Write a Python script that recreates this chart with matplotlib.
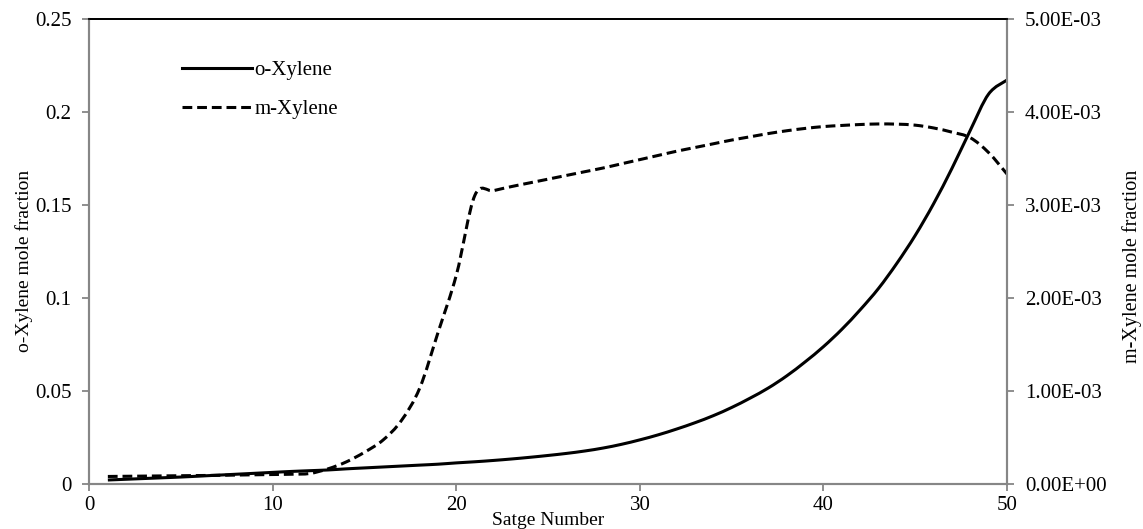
import numpy as np
import matplotlib
matplotlib.use('Agg')
import matplotlib.pyplot as plt
from matplotlib.path import Path
from matplotlib.patches import PathPatch
from matplotlib.lines import Line2D
from matplotlib.ticker import FuncFormatter

# 数据：塔板序号与两种组分的摩尔分数
stages = list(range(1, 51))
o_xylene = [0.0020, 0.0024, 0.0028, 0.0032, 0.0036, 0.0041, 0.0046, 0.0051, 0.0056, 0.0061,
            0.0066, 0.0070, 0.0074, 0.0080, 0.0085, 0.0090, 0.0095, 0.0100, 0.0105, 0.0112,
            0.0118, 0.0125, 0.0133, 0.0142, 0.0152, 0.0163, 0.0176, 0.0192, 0.0212, 0.0236,
            0.0263, 0.0294, 0.0328, 0.0366, 0.0410, 0.0460, 0.0515, 0.0580, 0.0655, 0.0737,
            0.0830, 0.0935, 0.1050, 0.1185, 0.1335, 0.1505, 0.1695, 0.1900, 0.2095, 0.2170]
m_xylene = [0.000078, 0.000080, 0.000082, 0.000084, 0.000086, 0.000088, 0.000090, 0.000093, 0.000096, 0.000099,
            0.000102, 0.000110, 0.000160, 0.000235, 0.000340, 0.000470, 0.000680, 0.001030, 0.001630, 0.002250,
            0.003100, 0.003150, 0.003195, 0.003235, 0.003275, 0.003315, 0.003355, 0.003395, 0.003440, 0.003485,
            0.003530, 0.003575, 0.003615, 0.003655, 0.003695, 0.003730, 0.003765, 0.003795, 0.003820, 0.003840,
            0.003852, 0.003862, 0.003868, 0.003866, 0.003855, 0.003825, 0.003780, 0.003720, 0.003560, 0.003330]

left_ticks = [0, 0.05, 0.1, 0.15, 0.2, 0.25]
left_labels = ['0', '0.05', '0.1', '0.15', '0.2', '0.25']
right_ticks = [0, 0.001, 0.002, 0.003, 0.004, 0.005]
x_ticks = [0, 10, 20, 30, 40, 50]

plt.rcParams['font.family'] = ['Liberation Serif', 'DejaVu Serif']
grey = '#868686'


# Excel 风格的平滑折线（贝塞尔曲线经过每个数据点）
def smooth_path(x, y):
    p = np.column_stack([x, y]).astype(float)
    ext = np.vstack([p[0], p, p[-1]])
    verts = [p[0]]
    codes = [Path.MOVETO]
    for i in range(len(p) - 1):
        c1 = ext[i + 1] + (ext[i + 2] - ext[i]) / 6
        c2 = ext[i + 2] - (ext[i + 3] - ext[i + 1]) / 6
        verts += [c1, c2, ext[i + 2]]
        codes += [Path.CURVE4] * 3
    return Path(verts, codes)


fig = plt.figure(figsize=(11.43, 5.29), dpi=100)
ax = fig.add_axes([0.0783, 0.0856, 0.8027, 0.8791])
ax2 = ax.twinx()

dash = (0, (3.2, 1.6))
ax.add_patch(PathPatch(smooth_path(stages, o_xylene), fill=False, edgecolor='black', lw=2.2))
ax2.add_patch(PathPatch(smooth_path(stages, m_xylene), fill=False, edgecolor='black', lw=2.2, linestyle=dash))

ax.set_xlim(0, 50)
ax.set_ylim(0, 0.25)
ax2.set_ylim(0, 0.005)
ax.set_xticks(x_ticks)
ax.set_yticks(left_ticks)
ax.set_yticklabels(left_labels)
ax2.set_yticks(right_ticks)
ax2.yaxis.set_major_formatter(FuncFormatter(lambda v, p: '%.2E' % v))

for a in (ax, ax2):
    for s in ('left', 'right', 'bottom'):
        a.spines[s].set_color(grey)
        a.spines[s].set_linewidth(1.5)
    a.spines['top'].set_color('black')
    a.spines['top'].set_linewidth(1.3)
    a.tick_params(direction='out', length=5, width=1.3, color=grey, labelsize=15)

ax.tick_params(axis='y', pad=8)
ax.tick_params(axis='x', pad=4)
ax2.tick_params(axis='y', pad=8)

ax.set_ylabel('o-Xylene mole fraction', fontsize=14)
ax.yaxis.set_label_coords(-0.062, 0.479)
ax2.set_ylabel('m-Xylene mole fraction', fontsize=14.5, rotation=90)
ax2.yaxis.set_label_coords(1.125, 0.468)
ax.set_xlabel('Satge Number', fontsize=14)
ax.xaxis.set_label_coords(0.5, -0.06)

handles = [Line2D([], [], color='black', lw=2.2),
           Line2D([], [], color='black', lw=2.2, ls=dash)]
ax.legend(handles, ['o-Xylene', 'm-Xylene'], loc='upper left', bbox_to_anchor=(0.08, 0.951),
          frameon=False, fontsize=15, handlelength=3.4, handletextpad=0.1, labelspacing=0.95)

fig.savefig('out.png', dpi=100)
